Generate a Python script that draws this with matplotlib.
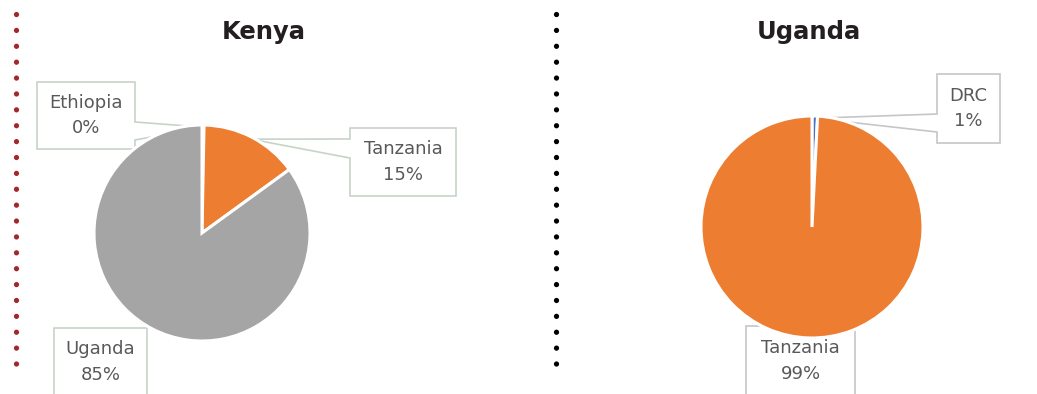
import numpy as np
import matplotlib.pyplot as plt
from matplotlib.patches import Polygon

# Data ---------------------
kenya_labels = ['Ethiopia', 'Tanzania', 'Uganda']
kenya_values = [0.3, 14.7, 85.0]
uganda_labels = ['DRC', 'Tanzania']
uganda_values = [0.8, 99.2]

colors = {'Ethiopia': '#4472C4', 'DRC': '#4472C4',
          'Tanzania': '#ED7D31', 'Uganda': '#A5A5A5'}

W, H = 1037, 394


def py(y):
    # pixel row (from top) -> data y (from bottom)
    return H - y


def callout(ax, box, tip, side, base, ec):
    x0, y0, x1, y1 = box
    if side == 'right':
        pts = [(x0, y0), (x1, y0), (x1, base[0]), tip, (x1, base[1]), (x1, y1), (x0, y1)]
    elif side == 'left':
        pts = [(x0, y0), (x1, y0), (x1, y1), (x0, y1), (x0, base[1]), tip, (x0, base[0])]
    else:
        pts = [(x0, y0), (x1, y0), (x1, y1), (x0, y1)]
    pts = [(x, py(y)) for x, y in pts]
    ax.add_patch(Polygon(pts, closed=True, facecolor='white', edgecolor=ec,
                         linewidth=1.2, zorder=0.5))


def draw_pie(ax, labels, values, center, radius, title, title_x, callouts, ec):
    total = sum(values)
    wedges, _ = ax.pie(values, colors=[colors[l] for l in labels], startangle=90,
                       counterclock=False, center=(center[0], py(center[1])),
                       radius=radius, frame=True,
                       wedgeprops=dict(edgecolor='white', linewidth=2.2))
    for w in wedges:
        w.set_zorder(1)
    for lab, val, w in zip(labels, values, wedges):
        box, side, base = callouts[lab]
        mid = np.deg2rad((w.theta1 + w.theta2) / 2)
        tip = (center[0] + radius * 0.98 * np.cos(mid),
               center[1] - radius * 0.98 * np.sin(mid))
        callout(ax, box, tip, side, base, ec)
        cx = (box[0] + box[2]) / 2
        cy = (box[1] + box[3]) / 2
        ax.text(cx, py(cy), f"{lab}\n{round(val / total * 100):.0f}%", ha='center',
                va='center', fontsize=13, color='#595959', linespacing=1.55, zorder=3)
    ax.text(title_x, py(32), title, ha='center', va='center', fontsize=17.5,
            fontweight='bold', color='#231F20')


fig = plt.figure(figsize=(W / 100, H / 100), dpi=100)
ax = fig.add_axes([0, 0, 1, 1])

kenya_callouts = {
    'Ethiopia': ((37, 82, 135, 149), 'right', (122, 140)),
    'Tanzania': ((350, 128, 456, 196), 'left', (139, 158)),
    'Uganda': ((54, 328, 147, 396), None, None),
}
uganda_callouts = {
    'DRC': ((937, 74, 1000, 143), 'left', (114, 132)),
    'Tanzania': ((746, 326, 855, 396), None, None),
}

draw_pie(ax, kenya_labels, kenya_values, (202, 233), 108, 'Kenya', 264,
         kenya_callouts, '#C8D3C8')
draw_pie(ax, uganda_labels, uganda_values, (812, 227), 111, 'Uganda', 809,
         uganda_callouts, '#C6C6C6')

# Dotted separators
ax.plot([16, 16], [py(14), py(375)], color='#A3282B', lw=3.8,
        linestyle=(0, (0.01, 3.0)), dash_capstyle='round', zorder=2)
ax.plot([556, 556], [py(14), py(375)], color='black', lw=3.8,
        linestyle=(0, (0.01, 3.0)), dash_capstyle='round', zorder=2)

ax.set_xlim(0, W)
ax.set_ylim(0, H)
ax.set_aspect('auto')
ax.axis('off')

fig.savefig('out.png', dpi=100)
